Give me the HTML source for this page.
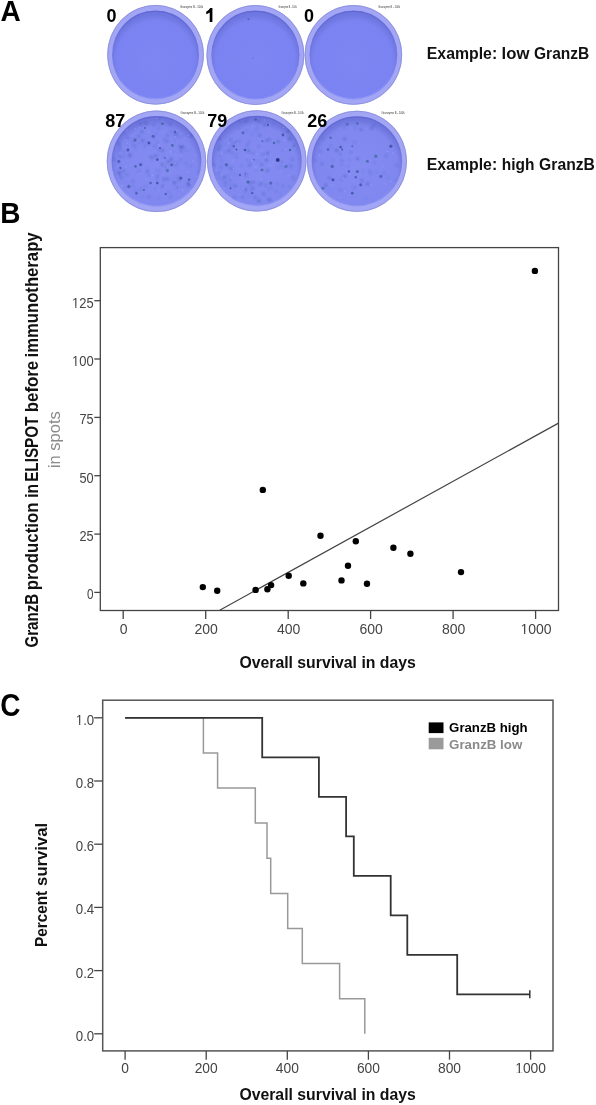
<!DOCTYPE html>
<html><head><meta charset="utf-8"><title>Figure</title>
<style>
html,body{margin:0;padding:0;background:#fff;}
body{width:596px;height:1105px;position:relative;overflow:hidden;font-family:"Liberation Sans",sans-serif;}
</style></head><body>
<svg width="596" height="1105" viewBox="0 0 596 1105" style="position:absolute;left:0;top:0;will-change:transform">
<defs>
<filter id="blur1" x="-50%" y="-50%" width="200%" height="200%"><feGaussianBlur stdDeviation="0.45"/></filter>
<filter id="blur2" x="-50%" y="-50%" width="200%" height="200%"><feGaussianBlur stdDeviation="0.85"/></filter>
<radialGradient id="inner" cx="50%" cy="56%" r="52%"><stop offset="0" stop-color="#7d86f3"/><stop offset="0.86" stop-color="#7a83f1"/><stop offset="1" stop-color="#6e76e0"/></radialGradient>
<radialGradient id="inner2" cx="50%" cy="56%" r="52%"><stop offset="0" stop-color="#848cf2"/><stop offset="0.86" stop-color="#8088f0"/><stop offset="1" stop-color="#6e76de"/></radialGradient>
<linearGradient id="shade" x1="0" y1="0" x2="0" y2="1"><stop offset="0" stop-color="#5a60d0" stop-opacity="0.7"/><stop offset="0.5" stop-color="#6a70d8" stop-opacity="0.25"/><stop offset="1" stop-color="#b0b4ff" stop-opacity="0.3"/></linearGradient>
<filter id="blur3" x="-50%" y="-50%" width="200%" height="200%"><feGaussianBlur stdDeviation="0.75"/></filter>
</defs>
<g style="font-family:'Liberation Sans',sans-serif;font-weight:bold" fill="#000">
<text transform="translate(0.4,20.8) scale(1,1.06)" font-size="28">A</text>
<text transform="translate(0.3,222.9) scale(1,1.06)" font-size="28">B</text>
<text transform="translate(0.3,715.6) scale(1,1.1)" font-size="28">C</text>
</g>
<ellipse cx="155.55" cy="54.8" rx="48.3" ry="49.8" fill="#a2a6f4"/>
<ellipse cx="155.55" cy="54.8" rx="47.9" ry="49.4" fill="none" stroke="#8a8ed8" stroke-width="0.8" filter="url(#blur1)"/>
<ellipse cx="155.55" cy="55.0" rx="43.4" ry="44.3" fill="url(#inner)"/>
<ellipse cx="155.55" cy="55.0" rx="42.9" ry="43.8" fill="none" stroke="url(#shade)" stroke-width="1.4" filter="url(#blur1)"/>
<text x="106.4" y="21.7" font-size="18" style="font-family:'Liberation Sans',sans-serif;font-weight:bold" fill="#000">0</text>
<text x="180" y="8.3" font-size="3.6" style="font-family:'Liberation Sans',sans-serif" fill="#333" textLength="23" lengthAdjust="spacingAndGlyphs">Granzyme B  - 100k</text>
<ellipse cx="255.4" cy="55.0" rx="48.9" ry="49.9" fill="#a2a6f4"/>
<ellipse cx="255.4" cy="55.0" rx="48.5" ry="49.5" fill="none" stroke="#8a8ed8" stroke-width="0.8" filter="url(#blur1)"/>
<ellipse cx="255.4" cy="55.2" rx="44.0" ry="44.4" fill="url(#inner)"/>
<ellipse cx="255.4" cy="55.2" rx="43.5" ry="43.9" fill="none" stroke="url(#shade)" stroke-width="1.4" filter="url(#blur1)"/>
<circle cx="248.4" cy="19.2" r="1.1" fill="#4a56b0" opacity="0.6" filter="url(#blur1)"/>
<circle cx="253" cy="58" r="0.9" fill="#5a66c0" opacity="0.4" filter="url(#blur1)"/>
<path d="M212.4 8 L212.4 21.9 L209.7 21.9 L209.7 12.4 Q208.2 13.6 206.2 14.2 L206.2 11.7 Q208.7 10.7 210.2 8 Z" fill="#000"/>
<text x="278.6" y="8.3" font-size="3.6" style="font-family:'Liberation Sans',sans-serif" fill="#333" textLength="18.099999999999966" lengthAdjust="spacingAndGlyphs">Granzyme B  - 100k</text>
<ellipse cx="353.4" cy="54.9" rx="48.7" ry="49.8" fill="#a2a6f4"/>
<ellipse cx="353.4" cy="54.9" rx="48.300000000000004" ry="49.4" fill="none" stroke="#8a8ed8" stroke-width="0.8" filter="url(#blur1)"/>
<ellipse cx="353.4" cy="55.1" rx="43.800000000000004" ry="44.3" fill="url(#inner)"/>
<ellipse cx="353.4" cy="55.1" rx="43.300000000000004" ry="43.8" fill="none" stroke="url(#shade)" stroke-width="1.4" filter="url(#blur1)"/>
<text x="304.1" y="21.7" font-size="18" style="font-family:'Liberation Sans',sans-serif;font-weight:bold" fill="#000">0</text>
<text x="378.3" y="8.3" font-size="3.6" style="font-family:'Liberation Sans',sans-serif" fill="#333" textLength="21.69999999999999" lengthAdjust="spacingAndGlyphs">Granzyme B  - 100k</text>
<ellipse cx="156.5" cy="161.3" rx="49.7" ry="50.7" fill="#a2a6f4"/>
<ellipse cx="156.5" cy="161.3" rx="49.300000000000004" ry="50.300000000000004" fill="none" stroke="#8a8ed8" stroke-width="0.8" filter="url(#blur1)"/>
<ellipse cx="156.5" cy="161.5" rx="44.800000000000004" ry="45.2" fill="url(#inner2)"/>
<ellipse cx="156.5" cy="161.5" rx="44.300000000000004" ry="44.7" fill="none" stroke="url(#shade)" stroke-width="1.4" filter="url(#blur1)"/>
<g filter="url(#blur3)"><circle cx="162.4" cy="123.6" r="1.32" fill="#2a5888" opacity="0.71"/><circle cx="153.1" cy="136.2" r="1.55" fill="#2c5090" opacity="0.60"/><circle cx="148.9" cy="142.9" r="1.41" fill="#303c94" opacity="0.69"/><circle cx="172.4" cy="145.4" r="1.33" fill="#2a5888" opacity="0.69"/><circle cx="164.9" cy="158.0" r="1.07" fill="#28488c" opacity="0.49"/><circle cx="157.3" cy="159.7" r="1.38" fill="#2a3c88" opacity="0.63"/><circle cx="135.5" cy="166.4" r="1.28" fill="#2c5090" opacity="0.65"/><circle cx="140.6" cy="164.7" r="1.43" fill="#303c94" opacity="0.64"/><circle cx="118.7" cy="161.3" r="1.58" fill="#2a3c88" opacity="0.47"/><circle cx="120.4" cy="168.0" r="1.13" fill="#303c94" opacity="0.63"/><circle cx="171.6" cy="164.7" r="1.54" fill="#28488c" opacity="0.58"/><circle cx="167.4" cy="170.6" r="1.59" fill="#2a5888" opacity="0.52"/><circle cx="189.2" cy="179.8" r="1.21" fill="#2a3c88" opacity="0.65"/><circle cx="150.6" cy="183.1" r="1.32" fill="#28488c" opacity="0.57"/><circle cx="157.3" cy="183.1" r="1.39" fill="#2a3c88" opacity="0.66"/><circle cx="136.4" cy="193.2" r="1.22" fill="#303c94" opacity="0.60"/><circle cx="143.9" cy="189.9" r="1.02" fill="#2a5888" opacity="0.68"/><circle cx="165.7" cy="194.0" r="1.28" fill="#28488c" opacity="0.57"/><circle cx="128.8" cy="186.5" r="1.67" fill="#2a3c88" opacity="0.51"/><circle cx="180.8" cy="178.1" r="1.65" fill="#2a3c88" opacity="0.59"/><circle cx="135.0" cy="140.0" r="1.69" fill="#2c5090" opacity="0.58"/><circle cx="128.0" cy="150.0" r="1.40" fill="#303c94" opacity="0.68"/><circle cx="175.0" cy="132.0" r="1.19" fill="#2a3c88" opacity="0.54"/><circle cx="145.0" cy="128.0" r="1.01" fill="#2c5090" opacity="0.68"/><circle cx="160.0" cy="148.0" r="1.08" fill="#303c94" opacity="0.66"/></g>
<g filter="url(#blur2)"><circle cx="185.9" cy="163.3" r="0.99" fill="#3a4aa4" opacity="0.41"/><circle cx="170.0" cy="195.7" r="0.70" fill="#3a58a0" opacity="0.29"/><circle cx="139.0" cy="170.8" r="0.82" fill="#30489a" opacity="0.60"/><circle cx="175.1" cy="163.6" r="1.40" fill="#34449e" opacity="0.26"/><circle cx="173.9" cy="184.1" r="0.61" fill="#30489a" opacity="0.54"/><circle cx="147.6" cy="169.0" r="0.77" fill="#3a4aa4" opacity="0.26"/><circle cx="133.4" cy="186.3" r="0.70" fill="#3a58a0" opacity="0.54"/><circle cx="174.2" cy="181.5" r="1.10" fill="#30489a" opacity="0.57"/><circle cx="165.4" cy="141.7" r="0.75" fill="#3a4aa4" opacity="0.49"/><circle cx="133.6" cy="180.7" r="0.66" fill="#34449e" opacity="0.29"/><circle cx="197.6" cy="171.5" r="0.79" fill="#3a58a0" opacity="0.34"/><circle cx="171.4" cy="131.5" r="0.83" fill="#3a4aa4" opacity="0.58"/><circle cx="171.7" cy="159.1" r="0.98" fill="#34449e" opacity="0.35"/><circle cx="173.4" cy="151.6" r="0.61" fill="#30489a" opacity="0.39"/><circle cx="156.6" cy="170.6" r="0.83" fill="#3a4aa4" opacity="0.28"/><circle cx="175.2" cy="183.5" r="0.86" fill="#3a4aa4" opacity="0.46"/><circle cx="182.9" cy="147.6" r="0.89" fill="#30489a" opacity="0.59"/><circle cx="190.6" cy="165.9" r="0.99" fill="#30489a" opacity="0.36"/><circle cx="168.4" cy="161.3" r="1.04" fill="#34449e" opacity="0.57"/><circle cx="153.6" cy="125.2" r="1.23" fill="#30489a" opacity="0.37"/><circle cx="140.3" cy="123.7" r="1.30" fill="#3a58a0" opacity="0.58"/><circle cx="186.5" cy="167.1" r="0.61" fill="#3a58a0" opacity="0.38"/><circle cx="168.1" cy="162.2" r="0.67" fill="#34449e" opacity="0.60"/><circle cx="183.3" cy="136.0" r="0.91" fill="#3a58a0" opacity="0.40"/><circle cx="163.1" cy="150.7" r="1.20" fill="#34449e" opacity="0.36"/><circle cx="162.0" cy="164.7" r="1.37" fill="#34449e" opacity="0.42"/><circle cx="125.3" cy="134.0" r="0.80" fill="#34449e" opacity="0.38"/><circle cx="177.5" cy="187.8" r="1.01" fill="#30489a" opacity="0.48"/><circle cx="118.4" cy="175.9" r="0.86" fill="#30489a" opacity="0.32"/><circle cx="121.3" cy="177.6" r="1.33" fill="#3a4aa4" opacity="0.38"/><circle cx="135.4" cy="149.2" r="0.71" fill="#3a58a0" opacity="0.37"/><circle cx="163.4" cy="156.0" r="0.65" fill="#30489a" opacity="0.54"/><circle cx="179.0" cy="180.6" r="1.34" fill="#3a58a0" opacity="0.38"/><circle cx="121.4" cy="156.9" r="1.17" fill="#3a58a0" opacity="0.36"/><circle cx="167.3" cy="141.2" r="1.09" fill="#30489a" opacity="0.45"/><circle cx="142.6" cy="197.1" r="0.62" fill="#3a4aa4" opacity="0.39"/><circle cx="170.5" cy="196.5" r="0.81" fill="#3a4aa4" opacity="0.53"/><circle cx="171.1" cy="159.8" r="0.69" fill="#30489a" opacity="0.59"/><circle cx="148.8" cy="143.6" r="0.98" fill="#3a4aa4" opacity="0.50"/><circle cx="157.5" cy="129.7" r="0.63" fill="#3a4aa4" opacity="0.35"/><circle cx="136.1" cy="191.0" r="1.02" fill="#3a4aa4" opacity="0.39"/><circle cx="167.2" cy="121.6" r="0.67" fill="#3a58a0" opacity="0.30"/><circle cx="123.8" cy="171.1" r="1.33" fill="#3a58a0" opacity="0.44"/><circle cx="138.9" cy="136.2" r="1.26" fill="#30489a" opacity="0.41"/><circle cx="145.1" cy="145.4" r="1.18" fill="#34449e" opacity="0.32"/><circle cx="191.1" cy="136.2" r="1.38" fill="#30489a" opacity="0.34"/><circle cx="155.4" cy="156.0" r="1.00" fill="#34449e" opacity="0.40"/><circle cx="120.5" cy="149.5" r="0.99" fill="#34449e" opacity="0.33"/><circle cx="175.5" cy="140.4" r="0.63" fill="#30489a" opacity="0.49"/><circle cx="182.1" cy="146.4" r="1.40" fill="#3a58a0" opacity="0.58"/><circle cx="114.5" cy="163.3" r="0.67" fill="#3a4aa4" opacity="0.40"/><circle cx="119.8" cy="147.1" r="1.05" fill="#3a4aa4" opacity="0.43"/><circle cx="174.4" cy="134.4" r="0.85" fill="#3a58a0" opacity="0.58"/><circle cx="179.6" cy="136.7" r="0.84" fill="#3a4aa4" opacity="0.59"/><circle cx="124.2" cy="156.3" r="0.76" fill="#34449e" opacity="0.43"/><circle cx="150.8" cy="156.9" r="1.38" fill="#3a58a0" opacity="0.44"/><circle cx="171.6" cy="160.3" r="0.67" fill="#3a4aa4" opacity="0.27"/><circle cx="129.5" cy="154.6" r="1.37" fill="#3a58a0" opacity="0.34"/><circle cx="141.3" cy="163.9" r="0.95" fill="#3a58a0" opacity="0.43"/><circle cx="178.2" cy="178.9" r="0.62" fill="#30489a" opacity="0.30"/><circle cx="157.7" cy="154.9" r="0.76" fill="#3a4aa4" opacity="0.25"/><circle cx="148.7" cy="197.2" r="0.80" fill="#3a58a0" opacity="0.29"/><circle cx="154.7" cy="146.3" r="1.01" fill="#30489a" opacity="0.50"/><circle cx="144.3" cy="122.7" r="0.62" fill="#3a58a0" opacity="0.54"/><circle cx="132.8" cy="140.2" r="1.29" fill="#3a4aa4" opacity="0.44"/><circle cx="176.6" cy="134.1" r="1.29" fill="#3a4aa4" opacity="0.57"/><circle cx="138.8" cy="143.0" r="0.74" fill="#30489a" opacity="0.56"/><circle cx="169.5" cy="197.1" r="0.76" fill="#34449e" opacity="0.30"/><circle cx="159.0" cy="198.0" r="0.81" fill="#34449e" opacity="0.40"/><circle cx="186.2" cy="149.8" r="1.16" fill="#3a4aa4" opacity="0.39"/><circle cx="154.2" cy="156.0" r="0.76" fill="#30489a" opacity="0.57"/><circle cx="170.9" cy="158.4" r="1.00" fill="#30489a" opacity="0.43"/><circle cx="149.1" cy="144.0" r="0.66" fill="#34449e" opacity="0.26"/><circle cx="159.0" cy="127.6" r="1.32" fill="#3a58a0" opacity="0.30"/><circle cx="164.3" cy="179.2" r="1.27" fill="#30489a" opacity="0.57"/><circle cx="165.4" cy="167.4" r="1.36" fill="#3a58a0" opacity="0.28"/><circle cx="178.7" cy="176.7" r="0.94" fill="#30489a" opacity="0.40"/><circle cx="152.5" cy="158.4" r="1.16" fill="#3a4aa4" opacity="0.31"/><circle cx="120.9" cy="171.9" r="0.92" fill="#3a4aa4" opacity="0.46"/><circle cx="188.3" cy="182.9" r="0.86" fill="#34449e" opacity="0.53"/><circle cx="145.2" cy="122.8" r="1.10" fill="#3a58a0" opacity="0.45"/><circle cx="168.5" cy="192.1" r="0.87" fill="#30489a" opacity="0.35"/><circle cx="184.2" cy="186.1" r="0.73" fill="#3a58a0" opacity="0.30"/><circle cx="141.2" cy="189.1" r="0.90" fill="#3a58a0" opacity="0.52"/><circle cx="126.0" cy="181.8" r="0.66" fill="#30489a" opacity="0.36"/><circle cx="189.3" cy="185.4" r="1.39" fill="#34449e" opacity="0.33"/><circle cx="189.6" cy="149.3" r="0.87" fill="#3a58a0" opacity="0.45"/><circle cx="130.1" cy="155.7" r="1.40" fill="#3a4aa4" opacity="0.50"/><circle cx="159.7" cy="118.6" r="0.62" fill="#34449e" opacity="0.51"/><circle cx="155.4" cy="188.7" r="0.64" fill="#3a4aa4" opacity="0.48"/><circle cx="178.4" cy="162.8" r="0.82" fill="#30489a" opacity="0.44"/><circle cx="114.1" cy="159.2" r="1.05" fill="#34449e" opacity="0.47"/><circle cx="160.9" cy="150.2" r="1.08" fill="#34449e" opacity="0.39"/><circle cx="181.4" cy="151.2" r="1.38" fill="#3a58a0" opacity="0.44"/><circle cx="133.2" cy="145.2" r="1.00" fill="#30489a" opacity="0.43"/><circle cx="135.2" cy="146.2" r="0.83" fill="#30489a" opacity="0.45"/><circle cx="148.9" cy="197.1" r="0.84" fill="#34449e" opacity="0.52"/><circle cx="127.0" cy="143.7" r="0.93" fill="#3a58a0" opacity="0.27"/><circle cx="145.7" cy="186.3" r="1.07" fill="#30489a" opacity="0.28"/><circle cx="180.0" cy="145.5" r="0.98" fill="#3a4aa4" opacity="0.27"/><circle cx="188.2" cy="183.9" r="1.33" fill="#3a4aa4" opacity="0.59"/><circle cx="170.2" cy="130.6" r="0.69" fill="#3a58a0" opacity="0.41"/><circle cx="159.3" cy="170.7" r="1.02" fill="#34449e" opacity="0.38"/><circle cx="174.3" cy="182.8" r="1.08" fill="#3a58a0" opacity="0.38"/><circle cx="155.0" cy="122.3" r="0.71" fill="#30489a" opacity="0.51"/><circle cx="157.6" cy="175.8" r="1.31" fill="#30489a" opacity="0.35"/><circle cx="128.1" cy="137.9" r="1.16" fill="#3a4aa4" opacity="0.47"/><circle cx="156.9" cy="142.5" r="0.80" fill="#3a4aa4" opacity="0.56"/><circle cx="166.8" cy="163.9" r="0.82" fill="#3a58a0" opacity="0.26"/><circle cx="176.3" cy="166.1" r="0.82" fill="#34449e" opacity="0.57"/><circle cx="167.6" cy="179.0" r="1.39" fill="#3a58a0" opacity="0.42"/><circle cx="162.7" cy="185.9" r="1.20" fill="#34449e" opacity="0.53"/><circle cx="119.5" cy="174.0" r="1.27" fill="#3a4aa4" opacity="0.41"/><circle cx="156.0" cy="134.3" r="0.72" fill="#3a4aa4" opacity="0.48"/><circle cx="181.1" cy="159.6" r="1.04" fill="#3a4aa4" opacity="0.40"/><circle cx="147.3" cy="171.2" r="1.30" fill="#34449e" opacity="0.44"/><circle cx="126.9" cy="174.8" r="1.25" fill="#3a58a0" opacity="0.35"/><circle cx="158.4" cy="149.5" r="0.77" fill="#34449e" opacity="0.49"/><circle cx="118.8" cy="162.5" r="0.86" fill="#3a4aa4" opacity="0.33"/><circle cx="142.9" cy="140.7" r="1.33" fill="#30489a" opacity="0.50"/><circle cx="119.0" cy="143.8" r="1.35" fill="#30489a" opacity="0.40"/><circle cx="164.3" cy="138.8" r="0.85" fill="#3a58a0" opacity="0.59"/><circle cx="152.6" cy="130.5" r="0.67" fill="#30489a" opacity="0.26"/><circle cx="141.9" cy="131.7" r="1.24" fill="#30489a" opacity="0.53"/><circle cx="118.3" cy="151.3" r="1.05" fill="#3a4aa4" opacity="0.28"/><circle cx="118.2" cy="172.6" r="1.25" fill="#3a4aa4" opacity="0.43"/><circle cx="125.2" cy="152.4" r="1.37" fill="#3a58a0" opacity="0.27"/><circle cx="119.8" cy="150.2" r="0.67" fill="#34449e" opacity="0.35"/><circle cx="175.6" cy="176.2" r="0.62" fill="#3a4aa4" opacity="0.28"/><circle cx="167.8" cy="135.6" r="1.17" fill="#3a58a0" opacity="0.52"/><circle cx="119.1" cy="156.2" r="0.92" fill="#30489a" opacity="0.53"/><circle cx="148.5" cy="175.2" r="0.99" fill="#34449e" opacity="0.50"/><circle cx="180.3" cy="147.2" r="1.26" fill="#30489a" opacity="0.55"/><circle cx="170.1" cy="124.3" r="1.31" fill="#34449e" opacity="0.43"/><circle cx="146.9" cy="123.8" r="0.94" fill="#3a58a0" opacity="0.57"/><circle cx="157.0" cy="178.7" r="1.11" fill="#3a4aa4" opacity="0.36"/><circle cx="132.4" cy="181.4" r="0.82" fill="#34449e" opacity="0.42"/><circle cx="153.6" cy="137.7" r="0.72" fill="#3a4aa4" opacity="0.57"/><circle cx="156.6" cy="155.6" r="0.98" fill="#34449e" opacity="0.36"/></g>
<g filter="url(#blur1)"><circle cx="165.1" cy="186.4" r="0.5" fill="#c4c8ff" opacity="0.45"/><circle cx="127.4" cy="143.3" r="0.5" fill="#c4c8ff" opacity="0.45"/><circle cx="125.5" cy="166.8" r="0.5" fill="#c4c8ff" opacity="0.45"/><circle cx="117.4" cy="176.2" r="0.5" fill="#c4c8ff" opacity="0.45"/><circle cx="122.0" cy="185.6" r="0.5" fill="#c4c8ff" opacity="0.45"/><circle cx="188.8" cy="147.9" r="0.5" fill="#c4c8ff" opacity="0.45"/><circle cx="187.1" cy="149.6" r="0.5" fill="#c4c8ff" opacity="0.45"/><circle cx="175.1" cy="136.8" r="0.5" fill="#c4c8ff" opacity="0.45"/><circle cx="121.1" cy="186.1" r="0.5" fill="#c4c8ff" opacity="0.45"/><circle cx="135.7" cy="128.5" r="0.5" fill="#c4c8ff" opacity="0.45"/><circle cx="190.8" cy="183.8" r="0.5" fill="#c4c8ff" opacity="0.45"/><circle cx="139.9" cy="173.5" r="0.5" fill="#c4c8ff" opacity="0.45"/><circle cx="182.7" cy="190.8" r="0.5" fill="#c4c8ff" opacity="0.45"/><circle cx="195.5" cy="155.4" r="0.5" fill="#c4c8ff" opacity="0.45"/><circle cx="162.4" cy="122.5" r="0.5" fill="#c4c8ff" opacity="0.45"/><circle cx="196.2" cy="176.4" r="0.5" fill="#c4c8ff" opacity="0.45"/><circle cx="188.7" cy="135.4" r="0.5" fill="#c4c8ff" opacity="0.45"/><circle cx="181.0" cy="144.7" r="0.5" fill="#c4c8ff" opacity="0.45"/><circle cx="157.1" cy="190.0" r="0.5" fill="#c4c8ff" opacity="0.45"/><circle cx="176.6" cy="141.1" r="0.5" fill="#c4c8ff" opacity="0.45"/><circle cx="158.8" cy="144.6" r="0.5" fill="#c4c8ff" opacity="0.45"/><circle cx="189.8" cy="139.6" r="0.5" fill="#c4c8ff" opacity="0.45"/><circle cx="182.4" cy="189.2" r="0.5" fill="#c4c8ff" opacity="0.45"/><circle cx="133.3" cy="139.6" r="0.5" fill="#c4c8ff" opacity="0.45"/><circle cx="188.1" cy="172.2" r="0.5" fill="#c4c8ff" opacity="0.45"/><circle cx="165.2" cy="179.3" r="0.5" fill="#c4c8ff" opacity="0.45"/><circle cx="171.3" cy="152.7" r="0.5" fill="#c4c8ff" opacity="0.45"/><circle cx="174.6" cy="180.2" r="0.5" fill="#c4c8ff" opacity="0.45"/><circle cx="132.4" cy="140.1" r="0.5" fill="#c4c8ff" opacity="0.45"/><circle cx="184.8" cy="137.8" r="0.5" fill="#c4c8ff" opacity="0.45"/><circle cx="189.7" cy="180.3" r="0.5" fill="#c4c8ff" opacity="0.45"/><circle cx="126.2" cy="152.8" r="0.5" fill="#c4c8ff" opacity="0.45"/><circle cx="175.5" cy="163.6" r="0.5" fill="#c4c8ff" opacity="0.45"/><circle cx="169.3" cy="195.5" r="0.5" fill="#c4c8ff" opacity="0.45"/><circle cx="162.3" cy="132.5" r="0.5" fill="#c4c8ff" opacity="0.45"/><circle cx="184.1" cy="167.9" r="0.5" fill="#c4c8ff" opacity="0.45"/><circle cx="113.5" cy="162.9" r="0.5" fill="#c4c8ff" opacity="0.45"/><circle cx="180.7" cy="155.7" r="0.5" fill="#c4c8ff" opacity="0.45"/><circle cx="129.2" cy="179.8" r="0.5" fill="#c4c8ff" opacity="0.45"/><circle cx="192.6" cy="160.7" r="0.5" fill="#c4c8ff" opacity="0.45"/><circle cx="167.5" cy="166.2" r="0.5" fill="#c4c8ff" opacity="0.45"/><circle cx="179.4" cy="189.2" r="0.5" fill="#c4c8ff" opacity="0.45"/><circle cx="139.3" cy="127.2" r="0.5" fill="#c4c8ff" opacity="0.45"/><circle cx="159.8" cy="146.2" r="0.5" fill="#c4c8ff" opacity="0.45"/><circle cx="117.8" cy="175.1" r="0.5" fill="#c4c8ff" opacity="0.45"/><circle cx="149.2" cy="131.7" r="0.5" fill="#c4c8ff" opacity="0.45"/><circle cx="152.5" cy="175.6" r="0.5" fill="#c4c8ff" opacity="0.45"/><circle cx="162.1" cy="120.8" r="0.5" fill="#c4c8ff" opacity="0.45"/><circle cx="177.5" cy="130.2" r="0.5" fill="#c4c8ff" opacity="0.45"/><circle cx="170.5" cy="151.3" r="0.5" fill="#c4c8ff" opacity="0.45"/><circle cx="126.8" cy="130.5" r="0.5" fill="#c4c8ff" opacity="0.45"/><circle cx="156.4" cy="118.1" r="0.5" fill="#c4c8ff" opacity="0.45"/></g>
<text x="105.3" y="126.8" font-size="18" style="font-family:'Liberation Sans',sans-serif;font-weight:bold" fill="#000">87</text>
<text x="180.5" y="113.8" font-size="3.6" style="font-family:'Liberation Sans',sans-serif" fill="#333" textLength="23.80000000000001" lengthAdjust="spacingAndGlyphs">Granzyme B  - 100k</text>
<ellipse cx="256.75" cy="160.9" rx="49.75" ry="50.6" fill="#a2a6f4"/>
<ellipse cx="256.75" cy="160.9" rx="49.35" ry="50.2" fill="none" stroke="#8a8ed8" stroke-width="0.8" filter="url(#blur1)"/>
<ellipse cx="256.75" cy="161.1" rx="44.85" ry="45.1" fill="url(#inner2)"/>
<ellipse cx="256.75" cy="161.1" rx="44.35" ry="44.6" fill="none" stroke="url(#shade)" stroke-width="1.4" filter="url(#blur1)"/>
<g filter="url(#blur3)"><circle cx="277.5" cy="159.7" r="1.53" fill="#2a5888" opacity="0.65"/><circle cx="233.8" cy="146.2" r="1.18" fill="#303c94" opacity="0.56"/><circle cx="236.5" cy="149.5" r="1.08" fill="#28488c" opacity="0.73"/><circle cx="243.0" cy="132.8" r="1.39" fill="#28488c" opacity="0.58"/><circle cx="255.7" cy="119.4" r="1.27" fill="#2a3c88" opacity="0.49"/><circle cx="262.4" cy="141.2" r="1.07" fill="#303c94" opacity="0.50"/><circle cx="274.0" cy="143.0" r="1.28" fill="#2c5090" opacity="0.63"/><circle cx="254.0" cy="159.7" r="1.06" fill="#303c94" opacity="0.46"/><circle cx="226.3" cy="164.7" r="1.69" fill="#2c5090" opacity="0.57"/><circle cx="230.5" cy="188.2" r="1.05" fill="#2c5090" opacity="0.73"/><circle cx="252.3" cy="193.2" r="1.10" fill="#303c94" opacity="0.68"/><circle cx="270.8" cy="183.1" r="1.57" fill="#2c5090" opacity="0.59"/><circle cx="285.9" cy="166.4" r="1.64" fill="#2a5888" opacity="0.45"/><circle cx="245.0" cy="150.0" r="1.28" fill="#28488c" opacity="0.74"/><circle cx="262.0" cy="170.0" r="1.55" fill="#2a5888" opacity="0.61"/><circle cx="240.0" cy="175.0" r="1.18" fill="#303c94" opacity="0.55"/><circle cx="283.0" cy="135.0" r="1.46" fill="#2a3c88" opacity="0.62"/><circle cx="268.0" cy="125.0" r="1.14" fill="#28488c" opacity="0.69"/><circle cx="248.0" cy="182.0" r="1.58" fill="#2a5888" opacity="0.66"/><circle cx="290.0" cy="150.0" r="1.18" fill="#2a5888" opacity="0.72"/></g>
<circle cx="277.8" cy="160" r="2.0" fill="#202c78" opacity="0.75" filter="url(#blur3)"/>
<g filter="url(#blur2)"><circle cx="232.3" cy="153.2" r="1.00" fill="#3a4aa4" opacity="0.45"/><circle cx="270.1" cy="200.4" r="1.40" fill="#3a4aa4" opacity="0.45"/><circle cx="291.3" cy="166.8" r="1.22" fill="#3a4aa4" opacity="0.34"/><circle cx="224.8" cy="144.2" r="0.86" fill="#30489a" opacity="0.34"/><circle cx="278.3" cy="141.4" r="1.18" fill="#3a4aa4" opacity="0.57"/><circle cx="225.6" cy="152.2" r="1.05" fill="#30489a" opacity="0.31"/><circle cx="255.7" cy="120.0" r="0.87" fill="#3a4aa4" opacity="0.29"/><circle cx="267.2" cy="140.2" r="1.32" fill="#3a4aa4" opacity="0.52"/><circle cx="245.3" cy="174.2" r="1.08" fill="#34449e" opacity="0.41"/><circle cx="225.4" cy="182.7" r="1.34" fill="#3a4aa4" opacity="0.36"/><circle cx="239.1" cy="128.3" r="0.91" fill="#34449e" opacity="0.31"/><circle cx="250.1" cy="165.0" r="1.02" fill="#34449e" opacity="0.45"/><circle cx="271.1" cy="188.5" r="0.81" fill="#30489a" opacity="0.27"/><circle cx="264.5" cy="125.1" r="1.23" fill="#3a58a0" opacity="0.59"/><circle cx="232.8" cy="143.5" r="0.93" fill="#3a58a0" opacity="0.51"/><circle cx="213.9" cy="164.7" r="1.27" fill="#3a58a0" opacity="0.54"/><circle cx="267.6" cy="170.7" r="1.35" fill="#30489a" opacity="0.43"/><circle cx="219.4" cy="177.9" r="0.86" fill="#34449e" opacity="0.35"/><circle cx="235.6" cy="141.9" r="0.90" fill="#30489a" opacity="0.51"/><circle cx="245.5" cy="192.2" r="0.66" fill="#34449e" opacity="0.55"/><circle cx="258.7" cy="201.2" r="1.38" fill="#3a58a0" opacity="0.49"/><circle cx="235.9" cy="157.4" r="0.85" fill="#3a58a0" opacity="0.58"/><circle cx="288.2" cy="131.3" r="1.18" fill="#30489a" opacity="0.55"/><circle cx="222.6" cy="179.3" r="0.78" fill="#3a58a0" opacity="0.45"/><circle cx="267.9" cy="153.2" r="1.23" fill="#34449e" opacity="0.56"/><circle cx="230.9" cy="147.6" r="0.84" fill="#30489a" opacity="0.26"/><circle cx="270.2" cy="186.2" r="0.96" fill="#3a58a0" opacity="0.30"/><circle cx="249.4" cy="141.5" r="0.84" fill="#3a58a0" opacity="0.56"/><circle cx="245.9" cy="189.4" r="1.35" fill="#3a58a0" opacity="0.56"/><circle cx="268.5" cy="199.2" r="1.15" fill="#34449e" opacity="0.32"/><circle cx="270.2" cy="139.0" r="0.98" fill="#3a4aa4" opacity="0.47"/><circle cx="246.4" cy="130.3" r="1.03" fill="#3a4aa4" opacity="0.32"/><circle cx="263.8" cy="154.3" r="0.68" fill="#30489a" opacity="0.59"/><circle cx="252.6" cy="188.6" r="1.30" fill="#30489a" opacity="0.49"/><circle cx="283.4" cy="149.9" r="0.66" fill="#3a4aa4" opacity="0.55"/><circle cx="282.8" cy="185.6" r="0.82" fill="#3a4aa4" opacity="0.43"/><circle cx="250.4" cy="182.6" r="1.24" fill="#34449e" opacity="0.46"/><circle cx="259.9" cy="184.4" r="1.34" fill="#3a4aa4" opacity="0.35"/><circle cx="248.5" cy="150.9" r="1.39" fill="#3a58a0" opacity="0.57"/><circle cx="293.5" cy="179.3" r="0.61" fill="#30489a" opacity="0.44"/><circle cx="227.9" cy="176.0" r="0.73" fill="#3a4aa4" opacity="0.34"/><circle cx="250.9" cy="192.3" r="0.75" fill="#3a4aa4" opacity="0.60"/><circle cx="285.4" cy="167.0" r="1.20" fill="#3a58a0" opacity="0.25"/><circle cx="265.0" cy="154.2" r="0.65" fill="#30489a" opacity="0.36"/><circle cx="249.1" cy="161.7" r="0.83" fill="#3a4aa4" opacity="0.46"/><circle cx="258.7" cy="146.6" r="0.95" fill="#3a58a0" opacity="0.44"/><circle cx="255.3" cy="197.4" r="1.18" fill="#30489a" opacity="0.42"/><circle cx="262.7" cy="193.2" r="1.00" fill="#34449e" opacity="0.32"/><circle cx="266.5" cy="159.1" r="0.96" fill="#3a4aa4" opacity="0.36"/><circle cx="230.6" cy="139.7" r="1.24" fill="#3a58a0" opacity="0.50"/><circle cx="261.5" cy="154.9" r="0.69" fill="#3a4aa4" opacity="0.45"/><circle cx="219.7" cy="150.6" r="0.79" fill="#3a4aa4" opacity="0.27"/><circle cx="224.6" cy="177.2" r="1.26" fill="#30489a" opacity="0.52"/><circle cx="221.9" cy="161.3" r="1.01" fill="#3a58a0" opacity="0.34"/><circle cx="276.0" cy="191.2" r="1.26" fill="#3a58a0" opacity="0.27"/><circle cx="234.7" cy="174.8" r="0.77" fill="#34449e" opacity="0.29"/><circle cx="257.9" cy="127.5" r="0.71" fill="#3a58a0" opacity="0.43"/><circle cx="259.2" cy="160.7" r="0.93" fill="#3a4aa4" opacity="0.28"/><circle cx="228.9" cy="150.7" r="1.35" fill="#34449e" opacity="0.49"/><circle cx="248.0" cy="119.2" r="1.09" fill="#30489a" opacity="0.34"/><circle cx="236.6" cy="154.1" r="0.97" fill="#3a4aa4" opacity="0.38"/><circle cx="234.5" cy="197.4" r="1.09" fill="#34449e" opacity="0.31"/><circle cx="219.7" cy="138.9" r="1.19" fill="#3a4aa4" opacity="0.41"/><circle cx="225.7" cy="185.6" r="0.90" fill="#34449e" opacity="0.33"/><circle cx="246.1" cy="176.0" r="1.04" fill="#3a4aa4" opacity="0.42"/><circle cx="229.8" cy="180.4" r="1.21" fill="#3a58a0" opacity="0.41"/><circle cx="292.3" cy="159.4" r="1.29" fill="#3a4aa4" opacity="0.44"/><circle cx="248.6" cy="165.5" r="0.82" fill="#30489a" opacity="0.47"/><circle cx="219.8" cy="156.5" r="1.01" fill="#3a4aa4" opacity="0.34"/><circle cx="245.9" cy="173.9" r="1.35" fill="#30489a" opacity="0.30"/><circle cx="259.0" cy="200.4" r="0.70" fill="#30489a" opacity="0.54"/><circle cx="218.8" cy="173.2" r="0.91" fill="#30489a" opacity="0.52"/><circle cx="246.7" cy="159.7" r="0.92" fill="#3a4aa4" opacity="0.42"/><circle cx="268.6" cy="189.5" r="0.70" fill="#3a4aa4" opacity="0.36"/><circle cx="228.5" cy="175.5" r="0.71" fill="#30489a" opacity="0.36"/><circle cx="231.5" cy="168.8" r="1.30" fill="#30489a" opacity="0.44"/><circle cx="241.6" cy="165.9" r="1.01" fill="#30489a" opacity="0.33"/><circle cx="250.1" cy="185.4" r="0.77" fill="#34449e" opacity="0.55"/><circle cx="256.2" cy="130.9" r="0.61" fill="#30489a" opacity="0.48"/><circle cx="293.2" cy="177.2" r="1.05" fill="#30489a" opacity="0.48"/><circle cx="295.4" cy="149.7" r="0.79" fill="#30489a" opacity="0.28"/><circle cx="232.4" cy="172.8" r="0.65" fill="#3a58a0" opacity="0.58"/><circle cx="248.9" cy="196.3" r="0.78" fill="#3a58a0" opacity="0.32"/><circle cx="259.7" cy="135.5" r="1.17" fill="#34449e" opacity="0.51"/><circle cx="289.1" cy="139.6" r="0.98" fill="#30489a" opacity="0.50"/><circle cx="222.6" cy="149.0" r="0.62" fill="#3a58a0" opacity="0.29"/><circle cx="291.5" cy="138.7" r="0.82" fill="#3a58a0" opacity="0.42"/><circle cx="231.4" cy="145.7" r="0.86" fill="#30489a" opacity="0.28"/><circle cx="280.7" cy="166.3" r="0.90" fill="#30489a" opacity="0.34"/><circle cx="247.6" cy="144.7" r="0.98" fill="#30489a" opacity="0.58"/><circle cx="235.4" cy="185.8" r="1.35" fill="#34449e" opacity="0.47"/><circle cx="236.7" cy="141.9" r="0.93" fill="#30489a" opacity="0.27"/><circle cx="228.5" cy="167.4" r="1.37" fill="#3a58a0" opacity="0.26"/><circle cx="277.0" cy="184.1" r="0.85" fill="#30489a" opacity="0.42"/><circle cx="290.0" cy="165.3" r="0.82" fill="#30489a" opacity="0.49"/><circle cx="256.9" cy="162.2" r="1.04" fill="#3a58a0" opacity="0.25"/><circle cx="218.7" cy="149.3" r="1.21" fill="#34449e" opacity="0.47"/><circle cx="220.2" cy="146.2" r="1.38" fill="#30489a" opacity="0.34"/><circle cx="261.5" cy="164.5" r="1.24" fill="#3a4aa4" opacity="0.49"/><circle cx="240.3" cy="121.8" r="1.26" fill="#3a4aa4" opacity="0.37"/><circle cx="242.3" cy="124.9" r="0.83" fill="#3a58a0" opacity="0.35"/><circle cx="256.5" cy="129.4" r="0.79" fill="#3a4aa4" opacity="0.38"/><circle cx="245.5" cy="121.1" r="1.19" fill="#34449e" opacity="0.60"/><circle cx="273.5" cy="123.9" r="0.85" fill="#3a58a0" opacity="0.43"/><circle cx="253.0" cy="153.1" r="1.10" fill="#3a58a0" opacity="0.55"/><circle cx="277.3" cy="168.1" r="1.01" fill="#3a58a0" opacity="0.34"/><circle cx="239.4" cy="141.3" r="1.15" fill="#3a4aa4" opacity="0.37"/><circle cx="259.1" cy="121.3" r="1.26" fill="#3a58a0" opacity="0.47"/><circle cx="282.9" cy="187.3" r="0.82" fill="#3a4aa4" opacity="0.29"/><circle cx="231.5" cy="185.6" r="0.78" fill="#3a4aa4" opacity="0.59"/><circle cx="221.3" cy="167.2" r="1.23" fill="#3a4aa4" opacity="0.34"/><circle cx="253.9" cy="182.4" r="1.13" fill="#3a58a0" opacity="0.58"/><circle cx="266.3" cy="160.2" r="1.17" fill="#34449e" opacity="0.55"/><circle cx="265.7" cy="185.1" r="1.03" fill="#34449e" opacity="0.39"/><circle cx="289.3" cy="138.7" r="1.28" fill="#3a4aa4" opacity="0.38"/><circle cx="242.7" cy="196.9" r="1.27" fill="#30489a" opacity="0.33"/><circle cx="251.9" cy="133.7" r="0.71" fill="#3a58a0" opacity="0.49"/><circle cx="261.5" cy="183.4" r="1.29" fill="#3a58a0" opacity="0.31"/><circle cx="289.4" cy="186.9" r="0.80" fill="#3a58a0" opacity="0.40"/><circle cx="280.2" cy="194.0" r="0.82" fill="#3a4aa4" opacity="0.35"/><circle cx="236.9" cy="175.3" r="0.66" fill="#3a4aa4" opacity="0.38"/><circle cx="256.2" cy="170.7" r="0.65" fill="#30489a" opacity="0.48"/><circle cx="281.8" cy="161.5" r="0.71" fill="#3a4aa4" opacity="0.60"/><circle cx="250.3" cy="165.1" r="0.88" fill="#3a58a0" opacity="0.45"/><circle cx="264.2" cy="194.0" r="1.26" fill="#30489a" opacity="0.35"/><circle cx="294.0" cy="145.9" r="1.40" fill="#3a58a0" opacity="0.45"/></g>
<g filter="url(#blur1)"><circle cx="265.7" cy="157.4" r="0.5" fill="#c4c8ff" opacity="0.45"/><circle cx="283.5" cy="127.4" r="0.5" fill="#c4c8ff" opacity="0.45"/><circle cx="221.5" cy="152.1" r="0.5" fill="#c4c8ff" opacity="0.45"/><circle cx="255.8" cy="167.7" r="0.5" fill="#c4c8ff" opacity="0.45"/><circle cx="246.3" cy="157.1" r="0.5" fill="#c4c8ff" opacity="0.45"/><circle cx="216.1" cy="169.8" r="0.5" fill="#c4c8ff" opacity="0.45"/><circle cx="281.3" cy="171.3" r="0.5" fill="#c4c8ff" opacity="0.45"/><circle cx="259.2" cy="138.3" r="0.5" fill="#c4c8ff" opacity="0.45"/><circle cx="258.1" cy="203.4" r="0.5" fill="#c4c8ff" opacity="0.45"/><circle cx="232.2" cy="161.7" r="0.5" fill="#c4c8ff" opacity="0.45"/><circle cx="221.4" cy="153.8" r="0.5" fill="#c4c8ff" opacity="0.45"/><circle cx="269.3" cy="124.3" r="0.5" fill="#c4c8ff" opacity="0.45"/><circle cx="285.0" cy="148.9" r="0.5" fill="#c4c8ff" opacity="0.45"/><circle cx="271.9" cy="137.1" r="0.5" fill="#c4c8ff" opacity="0.45"/><circle cx="284.8" cy="140.2" r="0.5" fill="#c4c8ff" opacity="0.45"/><circle cx="273.3" cy="161.9" r="0.5" fill="#c4c8ff" opacity="0.45"/><circle cx="240.0" cy="194.5" r="0.5" fill="#c4c8ff" opacity="0.45"/><circle cx="233.5" cy="160.0" r="0.5" fill="#c4c8ff" opacity="0.45"/><circle cx="291.7" cy="159.2" r="0.5" fill="#c4c8ff" opacity="0.45"/><circle cx="233.3" cy="168.6" r="0.5" fill="#c4c8ff" opacity="0.45"/><circle cx="289.4" cy="175.4" r="0.5" fill="#c4c8ff" opacity="0.45"/><circle cx="237.9" cy="148.2" r="0.5" fill="#c4c8ff" opacity="0.45"/><circle cx="261.0" cy="179.2" r="0.5" fill="#c4c8ff" opacity="0.45"/><circle cx="272.0" cy="165.5" r="0.5" fill="#c4c8ff" opacity="0.45"/><circle cx="250.0" cy="179.8" r="0.5" fill="#c4c8ff" opacity="0.45"/><circle cx="246.7" cy="175.2" r="0.5" fill="#c4c8ff" opacity="0.45"/><circle cx="243.6" cy="174.4" r="0.5" fill="#c4c8ff" opacity="0.45"/><circle cx="284.4" cy="164.7" r="0.5" fill="#c4c8ff" opacity="0.45"/><circle cx="269.6" cy="165.3" r="0.5" fill="#c4c8ff" opacity="0.45"/><circle cx="295.3" cy="148.5" r="0.5" fill="#c4c8ff" opacity="0.45"/><circle cx="257.2" cy="154.5" r="0.5" fill="#c4c8ff" opacity="0.45"/><circle cx="261.9" cy="171.0" r="0.5" fill="#c4c8ff" opacity="0.45"/><circle cx="228.3" cy="143.1" r="0.5" fill="#c4c8ff" opacity="0.45"/><circle cx="243.5" cy="188.3" r="0.5" fill="#c4c8ff" opacity="0.45"/><circle cx="285.7" cy="149.2" r="0.5" fill="#c4c8ff" opacity="0.45"/><circle cx="264.7" cy="120.0" r="0.5" fill="#c4c8ff" opacity="0.45"/><circle cx="261.2" cy="150.1" r="0.5" fill="#c4c8ff" opacity="0.45"/><circle cx="224.1" cy="187.9" r="0.5" fill="#c4c8ff" opacity="0.45"/><circle cx="285.4" cy="134.5" r="0.5" fill="#c4c8ff" opacity="0.45"/><circle cx="252.4" cy="160.2" r="0.5" fill="#c4c8ff" opacity="0.45"/><circle cx="252.3" cy="125.2" r="0.5" fill="#c4c8ff" opacity="0.45"/><circle cx="265.6" cy="155.4" r="0.5" fill="#c4c8ff" opacity="0.45"/><circle cx="237.5" cy="143.6" r="0.5" fill="#c4c8ff" opacity="0.45"/><circle cx="222.1" cy="174.8" r="0.5" fill="#c4c8ff" opacity="0.45"/><circle cx="218.1" cy="180.9" r="0.5" fill="#c4c8ff" opacity="0.45"/><circle cx="270.5" cy="153.9" r="0.5" fill="#c4c8ff" opacity="0.45"/><circle cx="254.0" cy="122.9" r="0.5" fill="#c4c8ff" opacity="0.45"/></g>
<text x="207.2" y="126.8" font-size="18" style="font-family:'Liberation Sans',sans-serif;font-weight:bold" fill="#000">79</text>
<text x="281.5" y="113.8" font-size="3.6" style="font-family:'Liberation Sans',sans-serif" fill="#333" textLength="22.19999999999999" lengthAdjust="spacingAndGlyphs">Granzyme B  - 100k</text>
<ellipse cx="356.9" cy="161.3" rx="50.0" ry="50.5" fill="#a2a6f4"/>
<ellipse cx="356.9" cy="161.3" rx="49.6" ry="50.1" fill="none" stroke="#8a8ed8" stroke-width="0.8" filter="url(#blur1)"/>
<ellipse cx="356.9" cy="161.5" rx="45.1" ry="45.0" fill="url(#inner2)"/>
<ellipse cx="356.9" cy="161.5" rx="44.6" ry="44.5" fill="none" stroke="url(#shade)" stroke-width="1.4" filter="url(#blur1)"/>
<g filter="url(#blur3)"><circle cx="330.5" cy="137.8" r="1.31" fill="#2c5090" opacity="0.58"/><circle cx="328.0" cy="149.6" r="1.27" fill="#303c94" opacity="0.56"/><circle cx="340.6" cy="147.1" r="1.38" fill="#2a3c88" opacity="0.60"/><circle cx="352.3" cy="146.2" r="1.02" fill="#2c5090" opacity="0.58"/><circle cx="347.3" cy="124.4" r="1.42" fill="#2a5888" opacity="0.47"/><circle cx="357.3" cy="123.6" r="1.23" fill="#2a5888" opacity="0.59"/><circle cx="375.8" cy="156.3" r="1.70" fill="#2a5888" opacity="0.54"/><circle cx="367.4" cy="161.3" r="1.52" fill="#2a5888" opacity="0.57"/><circle cx="390.9" cy="146.2" r="1.61" fill="#303c94" opacity="0.68"/><circle cx="332.2" cy="166.4" r="1.63" fill="#2a3c88" opacity="0.52"/><circle cx="333.0" cy="179.8" r="1.59" fill="#303c94" opacity="0.70"/><circle cx="322.9" cy="188.2" r="1.56" fill="#2a5888" opacity="0.53"/><circle cx="348.9" cy="171.4" r="1.18" fill="#303c94" opacity="0.71"/><circle cx="357.3" cy="171.4" r="1.50" fill="#28488c" opacity="0.61"/><circle cx="355.7" cy="177.3" r="1.24" fill="#303c94" opacity="0.61"/><circle cx="360.7" cy="184.8" r="1.61" fill="#303c94" opacity="0.60"/><circle cx="380.8" cy="176.4" r="1.67" fill="#303c94" opacity="0.47"/><circle cx="352.3" cy="193.2" r="1.39" fill="#2c5090" opacity="0.71"/><circle cx="342.2" cy="149.6" r="1.05" fill="#2c5090" opacity="0.71"/></g>
<g filter="url(#blur2)"><circle cx="361.1" cy="129.5" r="1.32" fill="#3a4aa4" opacity="0.53"/><circle cx="367.7" cy="183.8" r="1.34" fill="#3a4aa4" opacity="0.54"/><circle cx="370.5" cy="173.7" r="0.91" fill="#3a58a0" opacity="0.57"/><circle cx="395.6" cy="180.1" r="0.77" fill="#30489a" opacity="0.56"/><circle cx="354.2" cy="142.3" r="1.13" fill="#3a58a0" opacity="0.38"/><circle cx="371.6" cy="128.2" r="1.28" fill="#30489a" opacity="0.48"/><circle cx="362.0" cy="180.4" r="1.21" fill="#3a4aa4" opacity="0.49"/><circle cx="341.7" cy="164.6" r="0.69" fill="#30489a" opacity="0.46"/><circle cx="344.9" cy="176.2" r="1.40" fill="#3a4aa4" opacity="0.51"/><circle cx="341.5" cy="179.8" r="0.93" fill="#3a4aa4" opacity="0.28"/><circle cx="354.3" cy="187.6" r="1.09" fill="#30489a" opacity="0.41"/><circle cx="315.0" cy="159.6" r="0.88" fill="#3a58a0" opacity="0.33"/><circle cx="336.6" cy="150.3" r="1.30" fill="#30489a" opacity="0.58"/><circle cx="387.6" cy="177.7" r="0.78" fill="#3a58a0" opacity="0.39"/><circle cx="355.5" cy="127.8" r="0.96" fill="#34449e" opacity="0.38"/><circle cx="340.4" cy="189.9" r="1.13" fill="#30489a" opacity="0.35"/><circle cx="344.9" cy="127.9" r="0.80" fill="#3a58a0" opacity="0.38"/><circle cx="323.4" cy="139.0" r="0.91" fill="#30489a" opacity="0.37"/><circle cx="374.0" cy="125.3" r="1.07" fill="#34449e" opacity="0.41"/><circle cx="366.6" cy="198.5" r="0.61" fill="#34449e" opacity="0.50"/><circle cx="344.6" cy="139.1" r="1.32" fill="#34449e" opacity="0.48"/><circle cx="363.4" cy="171.0" r="0.74" fill="#30489a" opacity="0.42"/><circle cx="350.7" cy="152.6" r="0.78" fill="#34449e" opacity="0.60"/><circle cx="325.8" cy="185.4" r="1.12" fill="#34449e" opacity="0.60"/><circle cx="383.8" cy="173.2" r="0.92" fill="#3a4aa4" opacity="0.43"/><circle cx="330.6" cy="145.9" r="1.26" fill="#3a58a0" opacity="0.28"/><circle cx="357.6" cy="158.8" r="1.37" fill="#30489a" opacity="0.48"/><circle cx="386.1" cy="155.7" r="1.31" fill="#3a58a0" opacity="0.41"/><circle cx="396.8" cy="165.3" r="1.36" fill="#34449e" opacity="0.29"/><circle cx="329.2" cy="178.2" r="1.38" fill="#34449e" opacity="0.36"/><circle cx="341.7" cy="160.6" r="1.05" fill="#3a4aa4" opacity="0.48"/><circle cx="332.9" cy="159.8" r="0.88" fill="#3a4aa4" opacity="0.34"/><circle cx="348.3" cy="166.5" r="0.77" fill="#3a58a0" opacity="0.31"/><circle cx="369.6" cy="171.1" r="1.32" fill="#3a4aa4" opacity="0.30"/><circle cx="340.3" cy="154.2" r="1.09" fill="#34449e" opacity="0.39"/><circle cx="373.8" cy="162.4" r="1.25" fill="#3a58a0" opacity="0.30"/><circle cx="349.7" cy="159.9" r="0.69" fill="#30489a" opacity="0.57"/><circle cx="320.5" cy="151.2" r="1.22" fill="#3a58a0" opacity="0.40"/><circle cx="376.4" cy="171.7" r="0.69" fill="#3a58a0" opacity="0.37"/><circle cx="322.0" cy="163.7" r="1.31" fill="#3a4aa4" opacity="0.45"/><circle cx="315.8" cy="161.1" r="0.92" fill="#30489a" opacity="0.34"/></g>
<g filter="url(#blur1)"><circle cx="340.1" cy="149.1" r="0.5" fill="#c4c8ff" opacity="0.45"/><circle cx="390.9" cy="181.2" r="0.5" fill="#c4c8ff" opacity="0.45"/><circle cx="330.2" cy="184.9" r="0.5" fill="#c4c8ff" opacity="0.45"/><circle cx="349.3" cy="174.4" r="0.5" fill="#c4c8ff" opacity="0.45"/><circle cx="344.8" cy="191.2" r="0.5" fill="#c4c8ff" opacity="0.45"/><circle cx="371.1" cy="184.7" r="0.5" fill="#c4c8ff" opacity="0.45"/><circle cx="339.2" cy="197.2" r="0.5" fill="#c4c8ff" opacity="0.45"/><circle cx="339.9" cy="128.0" r="0.5" fill="#c4c8ff" opacity="0.45"/><circle cx="382.9" cy="166.7" r="0.5" fill="#c4c8ff" opacity="0.45"/><circle cx="387.3" cy="151.6" r="0.5" fill="#c4c8ff" opacity="0.45"/><circle cx="319.5" cy="154.9" r="0.5" fill="#c4c8ff" opacity="0.45"/><circle cx="333.0" cy="185.6" r="0.5" fill="#c4c8ff" opacity="0.45"/><circle cx="385.9" cy="183.8" r="0.5" fill="#c4c8ff" opacity="0.45"/><circle cx="343.2" cy="178.5" r="0.5" fill="#c4c8ff" opacity="0.45"/><circle cx="392.8" cy="152.9" r="0.5" fill="#c4c8ff" opacity="0.45"/></g>
<text x="307.2" y="126.8" font-size="18" style="font-family:'Liberation Sans',sans-serif;font-weight:bold" fill="#000">26</text>
<text x="381.5" y="113.8" font-size="3.6" style="font-family:'Liberation Sans',sans-serif" fill="#333" textLength="23.19999999999999" lengthAdjust="spacingAndGlyphs">Granzyme B  - 100k</text>
<g style="font-family:'Liberation Sans',sans-serif;font-weight:bold" fill="#111">
<text x="426.80" y="59.4" font-size="16.8" textLength="70.40" lengthAdjust="spacingAndGlyphs">Example:</text>
<text x="501.50" y="59.4" font-size="16.8" textLength="27.90" lengthAdjust="spacingAndGlyphs">low</text>
<text x="534.00" y="59.4" font-size="16.8" textLength="55.30" lengthAdjust="spacingAndGlyphs">GranzB</text>
<text x="426.80" y="169.8" font-size="16.8" textLength="70.40" lengthAdjust="spacingAndGlyphs">Example:</text>
<text x="501.80" y="169.8" font-size="16.8" textLength="32.70" lengthAdjust="spacingAndGlyphs">high</text>
<text x="539.10" y="169.8" font-size="16.8" textLength="55.80" lengthAdjust="spacingAndGlyphs">GranzB</text>
</g>
<rect x="100.3" y="247.6" width="458.2" height="362.9" fill="none" stroke="#444" stroke-width="1.3"/>
<line x1="94.3" y1="592.4" x2="100.3" y2="592.4" stroke="#444" stroke-width="1.3"/>
<text x="93.60" y="599.30" font-size="14.5" text-anchor="end" style="font-family:'Liberation Sans',sans-serif" fill="#444" textLength="6.5" lengthAdjust="spacingAndGlyphs">0</text>
<line x1="94.3" y1="534.1" x2="100.3" y2="534.1" stroke="#444" stroke-width="1.3"/>
<text x="93.60" y="540.96" font-size="14.5" text-anchor="end" style="font-family:'Liberation Sans',sans-serif" fill="#444" textLength="14.2" lengthAdjust="spacingAndGlyphs">25</text>
<line x1="94.3" y1="475.7" x2="100.3" y2="475.7" stroke="#444" stroke-width="1.3"/>
<text x="93.60" y="482.62" font-size="14.5" text-anchor="end" style="font-family:'Liberation Sans',sans-serif" fill="#444" textLength="14.2" lengthAdjust="spacingAndGlyphs">50</text>
<line x1="94.3" y1="417.4" x2="100.3" y2="417.4" stroke="#444" stroke-width="1.3"/>
<text x="93.60" y="424.28" font-size="14.5" text-anchor="end" style="font-family:'Liberation Sans',sans-serif" fill="#444" textLength="14.2" lengthAdjust="spacingAndGlyphs">75</text>
<line x1="94.3" y1="359.0" x2="100.3" y2="359.0" stroke="#444" stroke-width="1.3"/>
<text x="93.60" y="365.94" font-size="14.5" text-anchor="end" style="font-family:'Liberation Sans',sans-serif" fill="#444" textLength="21.6" lengthAdjust="spacingAndGlyphs">100</text>
<line x1="94.3" y1="300.7" x2="100.3" y2="300.7" stroke="#444" stroke-width="1.3"/>
<text x="93.60" y="307.60" font-size="14.5" text-anchor="end" style="font-family:'Liberation Sans',sans-serif" fill="#444" textLength="21.6" lengthAdjust="spacingAndGlyphs">125</text>
<line x1="123.2" y1="610.5" x2="123.2" y2="619" stroke="#444" stroke-width="1.3"/>
<text x="123.70" y="633.50" font-size="14" text-anchor="middle" style="font-family:'Liberation Sans',sans-serif" fill="#444">0</text>
<line x1="205.7" y1="610.5" x2="205.7" y2="619" stroke="#444" stroke-width="1.3"/>
<text x="206.18" y="633.50" font-size="14" text-anchor="middle" style="font-family:'Liberation Sans',sans-serif" fill="#444">200</text>
<line x1="288.2" y1="610.5" x2="288.2" y2="619" stroke="#444" stroke-width="1.3"/>
<text x="288.66" y="633.50" font-size="14" text-anchor="middle" style="font-family:'Liberation Sans',sans-serif" fill="#444">400</text>
<line x1="370.6" y1="610.5" x2="370.6" y2="619" stroke="#444" stroke-width="1.3"/>
<text x="371.14" y="633.50" font-size="14" text-anchor="middle" style="font-family:'Liberation Sans',sans-serif" fill="#444">600</text>
<line x1="453.1" y1="610.5" x2="453.1" y2="619" stroke="#444" stroke-width="1.3"/>
<text x="453.62" y="633.50" font-size="14" text-anchor="middle" style="font-family:'Liberation Sans',sans-serif" fill="#444">800</text>
<line x1="535.6" y1="610.5" x2="535.6" y2="619" stroke="#444" stroke-width="1.3"/>
<text x="536.10" y="633.50" font-size="14" text-anchor="middle" style="font-family:'Liberation Sans',sans-serif" fill="#444">1000</text>
<line x1="219.7" y1="610.2" x2="558.5" y2="423.1" stroke="#444" stroke-width="1.2"/>
<circle cx="202.8" cy="587.1" r="3.2" fill="#000"/>
<circle cx="217.2" cy="590.7" r="3.2" fill="#000"/>
<circle cx="255.6" cy="589.9" r="3.2" fill="#000"/>
<circle cx="262.8" cy="489.9" r="3.2" fill="#000"/>
<circle cx="267.4" cy="589.2" r="3.2" fill="#000"/>
<circle cx="271.1" cy="585.1" r="3.2" fill="#000"/>
<circle cx="288.7" cy="575.8" r="3.2" fill="#000"/>
<circle cx="303.3" cy="583.4" r="3.2" fill="#000"/>
<circle cx="320.5" cy="535.7" r="3.2" fill="#000"/>
<circle cx="341.5" cy="580.4" r="3.2" fill="#000"/>
<circle cx="348" cy="565.8" r="3.2" fill="#000"/>
<circle cx="355.8" cy="541.3" r="3.2" fill="#000"/>
<circle cx="367" cy="583.7" r="3.2" fill="#000"/>
<circle cx="393.4" cy="547.8" r="3.2" fill="#000"/>
<circle cx="410.4" cy="553.7" r="3.2" fill="#000"/>
<circle cx="461" cy="572.1" r="3.2" fill="#000"/>
<circle cx="534.9" cy="270.9" r="3.2" fill="#000"/>
<text x="239.4" y="668.4" font-size="17.2" style="font-family:'Liberation Sans',sans-serif;font-weight:bold" fill="#111" textLength="176.4" lengthAdjust="spacingAndGlyphs">Overall survival in days</text>
<text transform="translate(37.8,0) rotate(-90)" x="-647.60" y="0" font-size="17.8" style="font-family:'Liberation Sans',sans-serif;font-weight:bold" fill="#111" textLength="53.80" lengthAdjust="spacingAndGlyphs">GranzB</text>
<text transform="translate(37.8,0) rotate(-90)" x="-590.30" y="0" font-size="17.8" style="font-family:'Liberation Sans',sans-serif;font-weight:bold" fill="#111" textLength="87.80" lengthAdjust="spacingAndGlyphs">production</text>
<text transform="translate(37.8,0) rotate(-90)" x="-497.80" y="0" font-size="17.8" style="font-family:'Liberation Sans',sans-serif;font-weight:bold" fill="#111" textLength="13.90" lengthAdjust="spacingAndGlyphs">in</text>
<text transform="translate(37.8,0) rotate(-90)" x="-481.80" y="0" font-size="17.8" style="font-family:'Liberation Sans',sans-serif;font-weight:bold" fill="#111" textLength="65.20" lengthAdjust="spacingAndGlyphs">ELISPOT</text>
<text transform="translate(37.8,0) rotate(-90)" x="-412.20" y="0" font-size="17.8" style="font-family:'Liberation Sans',sans-serif;font-weight:bold" fill="#111" textLength="51.40" lengthAdjust="spacingAndGlyphs">before</text>
<text transform="translate(37.8,0) rotate(-90)" x="-357.50" y="0" font-size="17.8" style="font-family:'Liberation Sans',sans-serif;font-weight:bold" fill="#111" textLength="125.10" lengthAdjust="spacingAndGlyphs">immunotherapy</text>
<text transform="translate(59.6,468.1) rotate(-90)" x="0" y="0" font-size="16.5" style="font-family:'Liberation Sans',sans-serif" fill="#8a8a8a" textLength="56.9" lengthAdjust="spacingAndGlyphs">in spots</text>
<rect x="102.7" y="700.2" width="450.3" height="350.70000000000005" fill="none" stroke="#555" stroke-width="1.5"/>
<line x1="94.2" y1="1033.8" x2="102.7" y2="1033.8" stroke="#444" stroke-width="1.3"/>
<text x="94.20" y="1040.70" font-size="14.2" text-anchor="end" style="font-family:'Liberation Sans',sans-serif" fill="#444" textLength="18.4" lengthAdjust="spacingAndGlyphs">0.0</text>
<line x1="94.2" y1="970.6" x2="102.7" y2="970.6" stroke="#444" stroke-width="1.3"/>
<text x="94.20" y="977.50" font-size="14.2" text-anchor="end" style="font-family:'Liberation Sans',sans-serif" fill="#444" textLength="18.4" lengthAdjust="spacingAndGlyphs">0.2</text>
<line x1="94.2" y1="907.4" x2="102.7" y2="907.4" stroke="#444" stroke-width="1.3"/>
<text x="94.20" y="914.30" font-size="14.2" text-anchor="end" style="font-family:'Liberation Sans',sans-serif" fill="#444" textLength="18.4" lengthAdjust="spacingAndGlyphs">0.4</text>
<line x1="94.2" y1="844.2" x2="102.7" y2="844.2" stroke="#444" stroke-width="1.3"/>
<text x="94.20" y="851.10" font-size="14.2" text-anchor="end" style="font-family:'Liberation Sans',sans-serif" fill="#444" textLength="18.4" lengthAdjust="spacingAndGlyphs">0.6</text>
<line x1="94.2" y1="781.0" x2="102.7" y2="781.0" stroke="#444" stroke-width="1.3"/>
<text x="94.20" y="787.90" font-size="14.2" text-anchor="end" style="font-family:'Liberation Sans',sans-serif" fill="#444" textLength="18.4" lengthAdjust="spacingAndGlyphs">0.8</text>
<line x1="94.2" y1="717.8" x2="102.7" y2="717.8" stroke="#444" stroke-width="1.3"/>
<text x="94.20" y="724.70" font-size="14.2" text-anchor="end" style="font-family:'Liberation Sans',sans-serif" fill="#444" textLength="18.4" lengthAdjust="spacingAndGlyphs">1.0</text>
<line x1="125.1" y1="1050.9" x2="125.1" y2="1059.7" stroke="#444" stroke-width="1.3"/>
<text x="125.10" y="1073.40" font-size="13.8" text-anchor="middle" style="font-family:'Liberation Sans',sans-serif" fill="#444">0</text>
<line x1="206.2" y1="1050.9" x2="206.2" y2="1059.7" stroke="#444" stroke-width="1.3"/>
<text x="206.20" y="1073.40" font-size="13.8" text-anchor="middle" style="font-family:'Liberation Sans',sans-serif" fill="#444">200</text>
<line x1="287.3" y1="1050.9" x2="287.3" y2="1059.7" stroke="#444" stroke-width="1.3"/>
<text x="287.30" y="1073.40" font-size="13.8" text-anchor="middle" style="font-family:'Liberation Sans',sans-serif" fill="#444">400</text>
<line x1="368.4" y1="1050.9" x2="368.4" y2="1059.7" stroke="#444" stroke-width="1.3"/>
<text x="368.40" y="1073.40" font-size="13.8" text-anchor="middle" style="font-family:'Liberation Sans',sans-serif" fill="#444">600</text>
<line x1="449.5" y1="1050.9" x2="449.5" y2="1059.7" stroke="#444" stroke-width="1.3"/>
<text x="449.50" y="1073.40" font-size="13.8" text-anchor="middle" style="font-family:'Liberation Sans',sans-serif" fill="#444">800</text>
<line x1="530.6" y1="1050.9" x2="530.6" y2="1059.7" stroke="#444" stroke-width="1.3"/>
<text x="530.60" y="1073.40" font-size="13.8" text-anchor="middle" style="font-family:'Liberation Sans',sans-serif" fill="#444">1000</text>
<path d="M125.1,717.8 H203.4 V752.9 H217.6 V788.0 H255.3 V823.1 H267.0 V858.2 H270.7 V893.4 H287.7 V928.5 H302.3 V963.6 H339.6 V998.7 H364.8 V1033.8" fill="none" stroke="#999" stroke-width="1.5"/>
<path d="M125.1,717.8 H262.2 V757.3 H318.9 V796.8 H346.1 V836.3 H353.8 V875.8 H390.7 V915.3 H407.3 V954.8 H457.2 V994.3 H529.8" fill="none" stroke="#333" stroke-width="1.8"/>
<line x1="529.8" y1="990.2" x2="529.8" y2="998.3" stroke="#333" stroke-width="1.5"/>
<rect x="428.7" y="722.4" width="14.8" height="10.7" fill="#000"/>
<rect x="428.7" y="737.8" width="14.8" height="11.5" fill="#9a9a9a"/>
<text x="449.1" y="732" font-size="12.6" style="font-family:'Liberation Sans',sans-serif;font-weight:bold" fill="#000" textLength="78.6" lengthAdjust="spacingAndGlyphs">GranzB high</text>
<text x="449.1" y="749.1" font-size="12.6" style="font-family:'Liberation Sans',sans-serif;font-weight:bold" fill="#8a8a8a" textLength="73.2" lengthAdjust="spacingAndGlyphs">GranzB low</text>
<text x="239.4" y="1099.8" font-size="17" style="font-family:'Liberation Sans',sans-serif;font-weight:bold" fill="#111" textLength="176.4" lengthAdjust="spacingAndGlyphs">Overall survival in days</text>
<text transform="translate(46.8,0) rotate(-90)" x="-946.90" y="0" font-size="17" style="font-family:'Liberation Sans',sans-serif;font-weight:bold" fill="#111" textLength="56.10" lengthAdjust="spacingAndGlyphs">Percent</text>
<text transform="translate(46.8,0) rotate(-90)" x="-885.90" y="0" font-size="17" style="font-family:'Liberation Sans',sans-serif;font-weight:bold" fill="#111" textLength="63.00" lengthAdjust="spacingAndGlyphs">survival</text>
<rect x="70.99" y="364.70" width="4.25" height="1.77" fill="#fff"/><rect x="76.42" y="364.70" width="2.78" height="1.77" fill="#fff"/><rect x="70.99" y="306.36" width="4.25" height="1.77" fill="#fff"/><rect x="76.42" y="306.36" width="2.78" height="1.77" fill="#fff"/><rect x="519.43" y="632.30" width="4.59" height="1.71" fill="#fff"/><rect x="525.31" y="632.30" width="3.01" height="1.71" fill="#fff"/><rect x="74.77" y="723.49" width="4.34" height="1.73" fill="#fff"/><rect x="80.32" y="723.49" width="2.84" height="1.73" fill="#fff"/><rect x="514.17" y="1072.22" width="4.53" height="1.68" fill="#fff"/><rect x="519.96" y="1072.22" width="2.96" height="1.68" fill="#fff"/>
</svg>
</body></html>
